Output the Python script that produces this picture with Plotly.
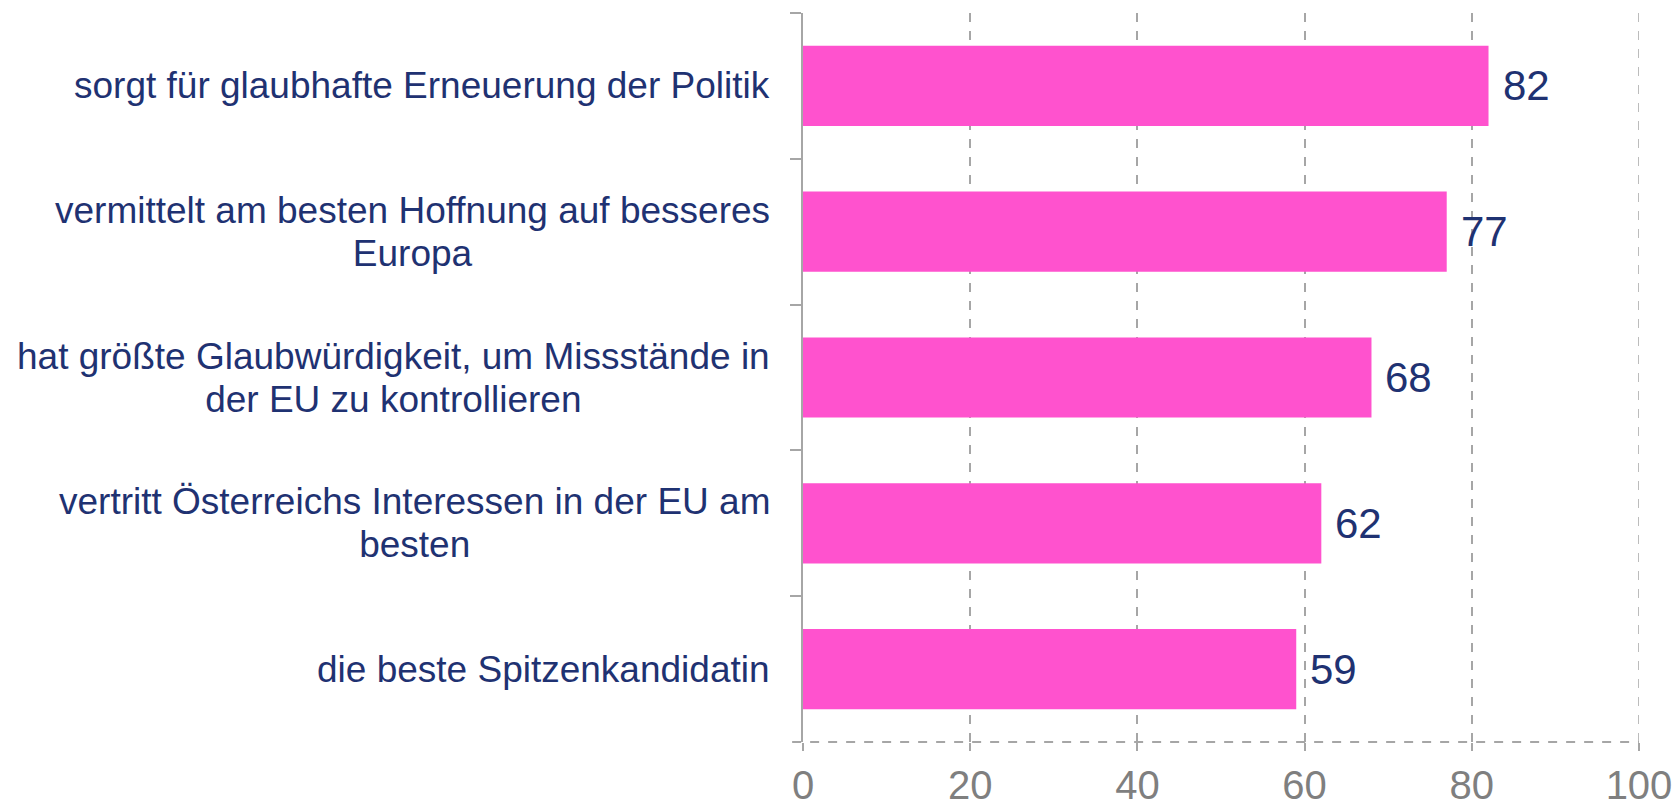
import plotly.graph_objects as go

# Aussagen (von oben nach unten) und Zustimmung in Prozent
categories = [
    "sorgt für glaubhafte Erneuerung der Politik",
    "vermittelt am besten Hoffnung auf besseres<br>Europa",
    "hat größte Glaubwürdigkeit, um Missstände in<br>der EU zu kontrollieren",
    "vertritt Österreichs Interessen in der EU am<br>besten",
    "die beste Spitzenkandidatin",
]
values = [82, 77, 68, 62, 59]
x_ticks = [0, 20, 40, 60, 80, 100]

BAR_COLOR = "#FF52CE"
TEXT_COLOR = "#1F3272"
AXIS_GRAY = "#A6A6A6"
TICK_GRAY = "#7F7F7F"
FONT = "Liberation Sans, Arial, sans-serif"


def label_markup(text, px=37):
    # larger glyphs per line, while the line pitch follows the base font size
    return "<br>".join(
        f'<span style="font-size:{px}px">{line}</span>' for line in text.split("<br>")
    )


fig = go.Figure()
fig.add_trace(go.Bar(
    x=values,
    y=categories,
    orientation="h",
    marker=dict(color=BAR_COLOR, line=dict(width=0)),
    hoverinfo="skip",
))

annotations = []
# Kategorie-Beschriftungen, zentriert ausgerichtet links neben der Achse
for cat in categories:
    annotations.append(dict(
        x=0, xref="paper", y=cat, yref="y",
        text=label_markup(cat), showarrow=False,
        xanchor="right", yanchor="middle", align="center",
        xshift=-31,
        font=dict(family=FONT, size=33, color=TEXT_COLOR),
    ))
# Wertebeschriftungen rechts neben den Balken
for cat, v in zip(categories, values):
    annotations.append(dict(
        x=v, xref="x", y=cat, yref="y",
        text=str(v), showarrow=False,
        xanchor="left", yanchor="middle",
        xshift=12,
        font=dict(family=FONT, size=42, color=TEXT_COLOR),
    ))

fig.update_layout(
    width=1680, height=809,
    margin=dict(l=803, r=41, t=13, b=67),
    paper_bgcolor="white", plot_bgcolor="white",
    bargap=0.45,
    showlegend=False,
    annotations=annotations,
    shapes=[
        # gestrichelte x-Achsenlinie
        dict(
            type="line", xref="paper", yref="paper",
            x0=-0.013, x1=1, y0=0, y1=0,
            line=dict(color=AXIS_GRAY, width=2, dash="dash"),
            layer="above",
        ),
        # Gitterlinie am rechten Rand
        dict(
            type="line", xref="x", yref="paper",
            x0=x_ticks[-1], x1=x_ticks[-1], y0=0, y1=1,
            line=dict(color=AXIS_GRAY, width=1.5, dash="dash"),
            layer="below",
        ),
    ],
)

fig.update_xaxes(
    range=[0, 100],
    tickvals=x_ticks,
    ticktext=[str(t) for t in x_ticks],
    showgrid=True, gridcolor=AXIS_GRAY, gridwidth=1.5, griddash="dash",
    zeroline=False, showline=False,
    ticks="outside", ticklen=8, tickcolor=AXIS_GRAY, tickwidth=1.5,
    ticklabelstandoff=0,
    automargin=False,
    tickfont=dict(family=FONT, size=40, color=TICK_GRAY),
)
fig.update_yaxes(
    type="category",
    categoryorder="array", categoryarray=categories,
    range=[len(categories) - 0.5, -0.5],
    showline=True, linecolor=AXIS_GRAY, linewidth=2,
    ticks="outside", tickson="boundaries", ticklen=11,
    tickcolor=AXIS_GRAY, tickwidth=2,
    showticklabels=False, showgrid=False, zeroline=False,
    automargin=False,
)

fig.write_html("out.html")
